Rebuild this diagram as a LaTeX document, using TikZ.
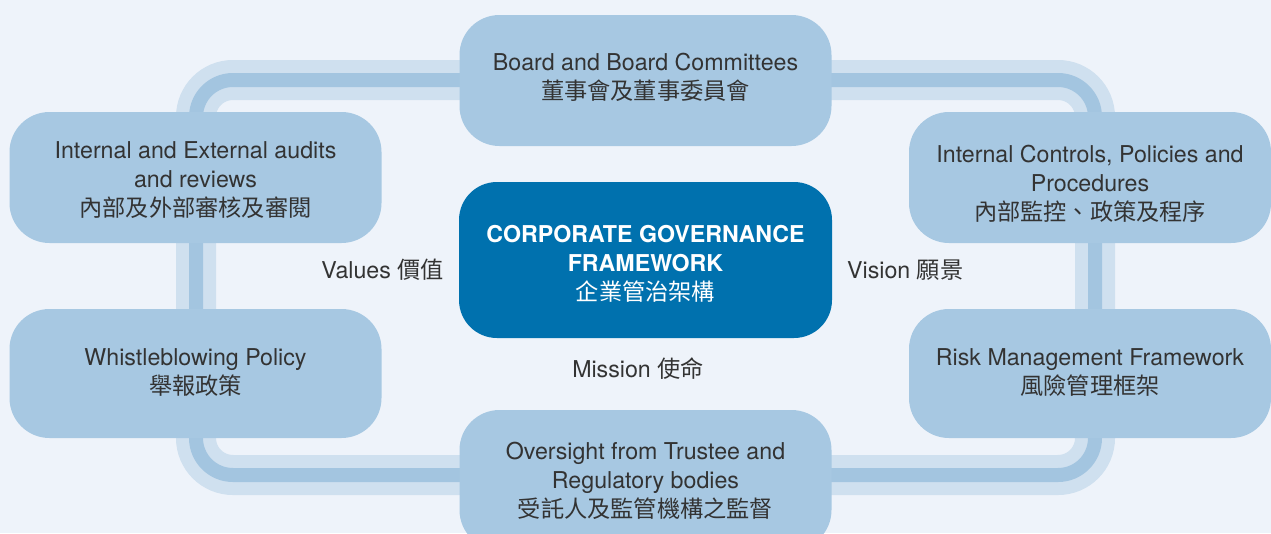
\documentclass[tikz,border=0pt]{standalone}
\usepackage{fontspec}
\setmainfont{TeX Gyre Heros}
\newfontfamily\cjk{Noto Sans CJK TC}

\definecolor{canvas}{HTML}{EEF3FA}
\definecolor{trackouter}{HTML}{CFE0EF}
\definecolor{trackinner}{HTML}{A3C5E0}
\definecolor{boxfill}{HTML}{A7C8E2}
\definecolor{corefill}{HTML}{0071AE}
\definecolor{ink}{HTML}{333333}

\begin{document}
\begin{tikzpicture}[x=1pt,y=-1pt,
  bodytext/.style={font=\fontsize{23.2}{29}\selectfont},
  pillar/.style={fill=boxfill, rounded corners=40pt, inner sep=0pt,
    minimum width=372pt, minimum height=131pt},
  core/.style={pillar, fill=corefill, rounded corners=38pt,
    minimum width=373pt, minimum height=156pt},
  caption/.style={bodytext, align=center, text=ink, inner sep=0pt},
  corecaption/.style={caption, text=white},
  value/.style={bodytext, text=ink, inner sep=0pt}]

  % canvas
  \fill[canvas] (0,0) rectangle (1271,533);
  \useasboundingbox (0,0) rectangle (1271,533);

  % the ring that links the six pillars
  \draw[trackouter, line width=40pt, rounded corners=37pt] (196,80) rectangle (1095,475);
  \draw[trackinner, line width=14pt, rounded corners=37pt] (196,80) rectangle (1095,475);

  % pillars
  \node[pillar] (board) at (645.5,80.5) {};
  \node[pillar] (audits) at (195.5,177.5) {};
  \node[pillar, minimum width=362pt] (controls) at (1090,177.5) {};
  \node[pillar, minimum height=129pt] (whistle) at (195.5,373.5) {};
  \node[pillar, minimum width=362pt, minimum height=129pt] (risk) at (1090,373.5) {};
  \node[pillar, minimum height=140pt] (oversight) at (645.5,480) {};
  \node[core] (framework) at (645.5,260) {};

  % pillar captions
  \node[caption] (boardtext) at ([yshift=3pt]board.center)
    {Board and Board Committees\\{\cjk 董事會及董事委員會}};
  \node[caption] (auditstext) at ([yshift=-3pt]audits.center)
    {Internal and External audits\\and reviews\\{\cjk 內部及外部審核及審閱}};
  \node[caption] (controlstext) at ([yshift=-6pt]controls.center)
    {Internal Controls, Policies and\\Procedures\\{\cjk 內部監控、政策及程序}};
  \node[caption] (whistletext) at ([yshift=1pt]whistle.center)
    {Whistleblowing Policy\\{\cjk 舉報政策}};
  \node[caption] (risktext) at ([yshift=1pt]risk.center)
    {Risk Management Framework\\{\cjk 風險管理框架}};
  \node[caption] (oversighttext) at ([yshift=-1pt]oversight.center)
    {Oversight from Trustee and\\Regulatory bodies\\{\cjk 受託人及監管機構之監督}};
  \node[corecaption] (frameworktext) at ([yshift=-4pt]framework.center)
    {\bfseries CORPORATE GOVERNANCE\\\bfseries FRAMEWORK\\{\cjk 企業管治架構}};

  % values, vision and mission
  \node[value, anchor=base east] (values) at (444,278) {Values {\cjk 價值}};
  \node[value, anchor=base west] (vision) at (847,278) {Vision {\cjk 願景}};
  \node[value, anchor=base] (mission) at (638,377) {Mission {\cjk 使命}};
\end{tikzpicture}
\end{document}
